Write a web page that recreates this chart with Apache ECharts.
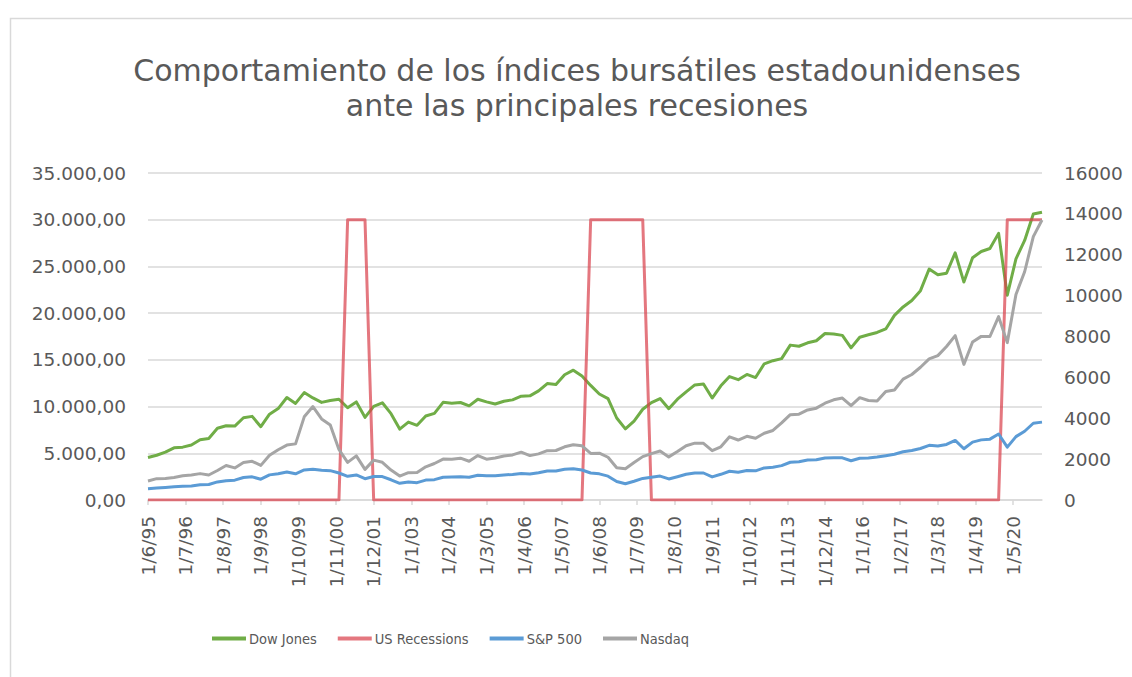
<!DOCTYPE html>
<html>
<head>
<meta charset="utf-8">
<script src="https://cdn.jsdelivr.net/npm/echarts@6/dist/echarts.min.js"></script>
<style>
  html, body { margin: 0; padding: 0; background: #fff; }
  #chart { width: 1132px; height: 677px; }
</style>
</head>
<body>
<div id="chart"></div>
<script>
// monthly category axis, 1/6/95 .. 1/3/21 ; data points are quarterly
const startYear = 1995
const startMonth = 6
const monthCount = 310
const months = []
for (let i = 0; i < monthCount; i++) {
  const m = (startMonth - 1 + i) % 12 + 1
  const y = startYear + Math.floor((startMonth - 1 + i) / 12)
  months.push('1/' + m + '/' + String(y).slice(2))
}
const stepMonths = 3
const labelEvery = 13

const titleLines = [
  'Comportamiento de los índices bursátiles estadounidenses',
  'ante las principales recesiones'
]

const dowJones = [
  4556, 4789, 5117,
  5587, 5655, 5882, 6448,
  6584, 7673, 7945, 7908,
  8800, 8952, 7843, 9181,
  9786, 10971, 10337, 11497,
  10922, 10448, 10651, 10787,
  9879, 10502, 8848, 10022,
  10404, 9243, 7592, 8342,
  7992, 8985, 9275, 10454,
  10358, 10435, 10080, 10783,
  10504, 10275, 10569, 10718,
  11109, 11150, 11679, 12463,
  12354, 13409, 13896, 13265,
  12263, 11350, 10851, 8776,
  7609, 8447, 9712, 10428,
  10857, 9774, 10788, 11578,
  12320, 12414, 10913, 12218,
  13212, 12880, 13437, 13104,
  14579, 14910, 15130, 16577,
  16458, 16827, 17043, 17823,
  17776, 17620, 16285, 17425,
  17685, 17930, 18308, 19763,
  20663, 21350, 22405, 24719,
  24103, 24271, 26458, 23327,
  25929, 26600, 26917, 28538,
  21917, 25813, 27782, 30606,
  30800
]

const usRecessions = [
  0, 0, 0,
  0, 0, 0, 0,
  0, 0, 0, 0,
  0, 0, 0, 0,
  0, 0, 0, 0,
  0, 0, 0, 0,
  30000, 30000, 30000, 0,
  0, 0, 0, 0,
  0, 0, 0, 0,
  0, 0, 0, 0,
  0, 0, 0, 0,
  0, 0, 0, 0,
  0, 0, 0, 0,
  30000, 30000, 30000, 30000,
  30000, 30000, 30000, 0,
  0, 0, 0, 0,
  0, 0, 0, 0,
  0, 0, 0, 0,
  0, 0, 0, 0,
  0, 0, 0, 0,
  0, 0, 0, 0,
  0, 0, 0, 0,
  0, 0, 0, 0,
  0, 0, 0, 0,
  0, 0, 0, 0,
  30000, 30000, 30000, 30000,
  30000
]

const sp500 = [
  545, 584, 616,
  645, 671, 687, 741,
  757, 885, 947, 970,
  1102, 1134, 1017, 1229,
  1286, 1373, 1283, 1469,
  1499, 1455, 1437, 1320,
  1160, 1224, 1041, 1148,
  1147, 990, 815, 880,
  848, 975, 996, 1112,
  1126, 1141, 1115, 1212,
  1181, 1191, 1229, 1248,
  1295, 1270, 1336, 1418,
  1421, 1503, 1527, 1468,
  1323, 1280, 1166, 903,
  798, 919, 1057, 1115,
  1169, 1031, 1141, 1258,
  1326, 1321, 1131, 1258,
  1408, 1362, 1441, 1426,
  1569, 1606, 1682, 1848,
  1872, 1960, 1972, 2059,
  2068, 2063, 1920, 2044,
  2060, 2099, 2168, 2239,
  2363, 2423, 2519, 2674,
  2641, 2718, 2914, 2507,
  2834, 2942, 2977, 3231,
  2585, 3100, 3363, 3756,
  3811
]

const nasdaq = [
  933, 1044, 1052,
  1101, 1185, 1227, 1291,
  1222, 1442, 1686, 1570,
  1835, 1895, 1694, 2193,
  2461, 2686, 2746, 4069,
  4573, 3966, 3673, 2471,
  1840, 2161, 1499, 1950,
  1845, 1463, 1172, 1336,
  1341, 1623, 1787, 2003,
  1994, 2048, 1897, 2175,
  1999, 2057, 2152, 2205,
  2340, 2172, 2258, 2415,
  2422, 2603, 2701, 2652,
  2279, 2293, 2092, 1577,
  1529, 1835, 2122, 2269,
  2398, 2109, 2369, 2653,
  2781, 2774, 2415, 2605,
  3092, 2935, 3116, 3020,
  3268, 3403, 3771, 4177,
  4199, 4408, 4493, 4736,
  4901, 4987, 4620, 5007,
  4870, 4843, 5312, 5383,
  5912, 6140, 6496, 6903,
  7063, 7510, 8046, 6635,
  7729, 8006, 7999, 8973,
  7700, 10059, 11168, 12888,
  13700
]

const toPoints = arr => arr.map((v, i) => [i * stepMonths, v])

// 35000 -> "35.000,00"
const fmtEs = v => {
  const s = String(Math.round(v)).replace(/\B(?=(\d{3})+(?!\d))/g, '.')
  return s + ',00'
}

const textColor = '#595959'
const gridColor = '#d9d9d9'
const axisFont = '"DejaVu Sans", sans-serif'

// svg renderer: rotated axis labels come out right in this environment
const chart = echarts.init(document.getElementById('chart'), null, { renderer: 'svg' })

const lineSeries = (name, data, color, yAxisIndex, opacity) => ({
  name,
  type: 'line',
  yAxisIndex,
  data: toPoints(data),
  symbol: 'none',
  showSymbol: false,
  lineStyle: { color, width: 3, opacity: opacity || 1, join: 'round' },
  itemStyle: { color, opacity: opacity || 1 },
  emphasis: { disabled: true },
  animation: false
})

const titleStyle = {
  fontFamily: '"DejaVu Sans", sans-serif',
  fontSize: 30,
  lineHeight: 35,
  fontWeight: 'normal',
  color: textColor
}

chart.setOption({
  backgroundColor: '#ffffff',
  animation: false,
  graphic: [{
    type: 'rect',
    shape: { x: 10.5, y: 18.5, width: 1200, height: 700 },
    style: { fill: 'none', stroke: gridColor, lineWidth: 1.5 },
    silent: true
  }],
  title: [
    { text: titleLines[0], left: 572, top: 48, textAlign: 'center', textStyle: titleStyle },
    { text: titleLines[1], left: 572, top: 83, textAlign: 'center', textStyle: titleStyle }
  ],
  legend: {
    left: 207,
    top: 626,
    itemWidth: 34,
    itemHeight: 4,
    itemGap: 21,
    icon: 'rect',
    textStyle: {
      fontFamily: '"Liberation Sans Narrow", "DejaVu Sans Condensed", sans-serif',
      fontSize: 14.5,
      color: textColor,
      padding: [0, 0, 0, -2]
    },
    data: ['Dow Jones', 'US Recessions', 'S&P 500', 'Nasdaq']
  },
  grid: {
    left: 148,
    right: 90,
    top: 173,
    bottom: 177,
    containLabel: false
  },
  xAxis: {
    type: 'category',
    data: months,
    boundaryGap: false,
    axisLine: { lineStyle: { color: gridColor, width: 1.5 } },
    axisTick: { interval: labelEvery - 1, length: 5, lineStyle: { color: gridColor, width: 1.5 } },
    axisLabel: {
      interval: labelEvery - 1,
      rotate: 90,
      margin: 16,
      fontFamily: axisFont,
      fontSize: 18.5,
      color: textColor
    },
    splitLine: { show: false }
  },
  yAxis: [{
    type: 'value',
    min: 0,
    max: 35000,
    interval: 5000,
    axisLine: { show: false },
    axisTick: { show: false },
    axisLabel: {
      formatter: fmtEs,
      margin: 22,
      fontFamily: axisFont,
      fontSize: 18.5,
      color: textColor
    },
    splitLine: { lineStyle: { color: gridColor, width: 1.5 } }
  }, {
    type: 'value',
    min: 0,
    max: 16000,
    interval: 2000,
    position: 'right',
    axisLine: { show: false },
    axisTick: { show: false },
    axisLabel: {
      formatter: v => String(v),
      margin: 22,
      fontFamily: axisFont,
      fontSize: 18.5,
      color: textColor
    },
    splitLine: { show: false }
  }],
  series: [
    lineSeries('Dow Jones', dowJones, '#70AD47', 0),
    lineSeries('US Recessions', usRecessions, '#D9434E', 0, 0.72),
    lineSeries('S&P 500', sp500, '#5B9BD5', 1),
    lineSeries('Nasdaq', nasdaq, '#A5A5A5', 1)
  ]
})
</script>
</body>
</html>
